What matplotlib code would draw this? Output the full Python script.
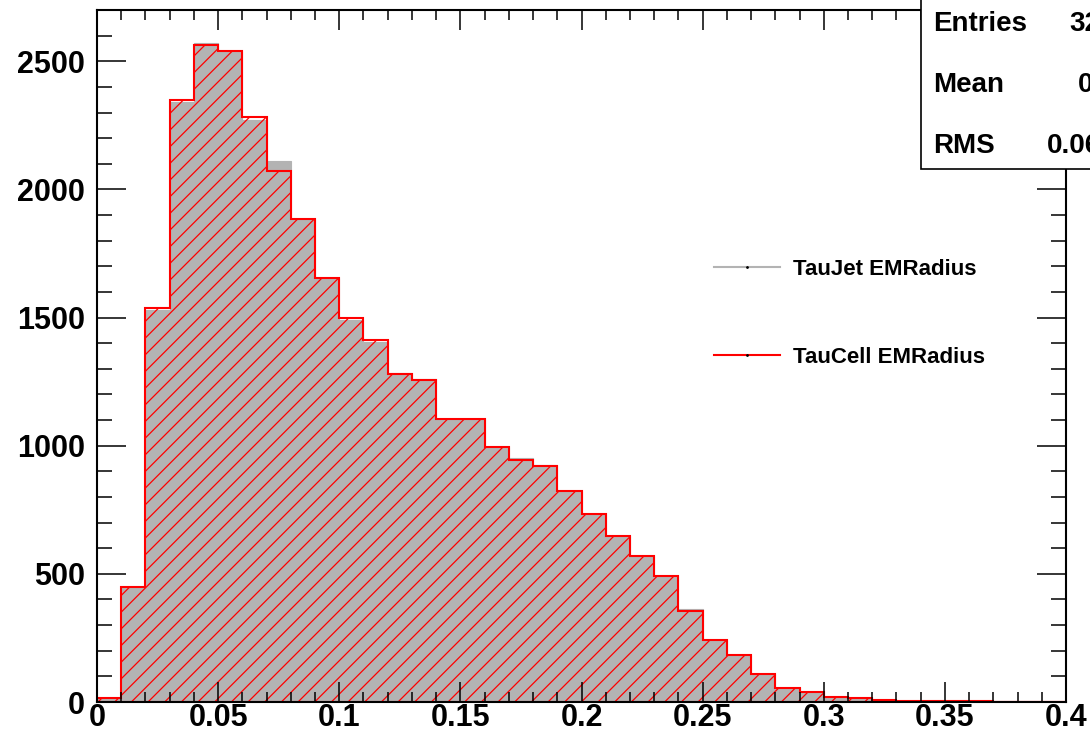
import numpy as np
import matplotlib
matplotlib.use("Agg")
from matplotlib import pyplot as plt
from matplotlib.lines import Line2D
from matplotlib.patches import Rectangle

plt.rcParams['font.family'] = ['Liberation Sans', 'DejaVu Sans']
plt.rcParams['font.weight'] = 'bold'
plt.rcParams['hatch.linewidth'] = 0.9

# histogram binning: 40 bins of 0.01 from 0 to 0.4
edges = np.round(np.arange(0, 0.4001, 0.01), 3)

# TauCell EMRadius (red hatched)
cell_counts = [15, 447, 1538, 2349, 2562, 2540, 2282, 2071, 1885, 1655,
               1500, 1411, 1280, 1256, 1104, 1104, 993, 945, 920, 825,
               735, 648, 568, 493, 355, 243, 182, 109, 55, 40,
               21, 14, 6, 5, 4, 2, 2, 1, 1, 0]
# TauJet EMRadius (grey filled)
jet_counts = [15, 447, 1530, 2340, 2573, 2540, 2270, 2110, 1885, 1655,
              1492, 1404, 1282, 1262, 1104, 1104, 993, 952, 926, 825,
              735, 648, 568, 493, 363, 243, 182, 109, 55, 40,
              21, 14, 6, 5, 4, 2, 2, 1, 1, 0]

labels = ["TauJet EMRadius", "TauCell EMRadius"]
stat_names = ["Entries", "Mean", "RMS"]
stat_values = ["32163", "0.121", "0.06458"]

W, H = 1090, 735
fig = plt.figure(figsize=(W / 100, H / 100), dpi=100)
ax = fig.add_axes([97 / W, 1 - 702 / H, (1066 - 97) / W, (702 - 10) / H])

grey = '#b3b3b3'
ax.stairs(jet_counts, edges, fill=True, facecolor=grey, edgecolor=grey, linewidth=0.8)
ax.stairs(cell_counts, edges, fill=True, facecolor='none', edgecolor='red',
          hatch='//', linewidth=0)
ax.stairs(cell_counts, edges, baseline=0, color='red', linewidth=1.5)
ax.plot([edges[0], edges[-1]], [0, 0], color='red', linewidth=1.5)

ax.set_xlim(0, 0.4)
ax.set_ylim(0, 2700)

ax.set_xticks(np.arange(0, 0.401, 0.05))
ax.set_xticklabels(['0', '0.05', '0.1', '0.15', '0.2', '0.25', '0.3', '0.35', '0.4'])
ax.set_xticks(np.arange(0, 0.401, 0.01), minor=True)
ax.set_yticks(np.arange(0, 2501, 500))
ax.set_yticks(np.arange(0, 2701, 100), minor=True)

ax.tick_params(axis='x', which='major', direction='in', length=14.4, width=1.1,
               top=True, bottom=True, labelsize=22, pad=0.5)
ax.tick_params(axis='x', which='minor', direction='in', length=7.2, width=1.1,
               top=True, bottom=True)
ax.tick_params(axis='y', which='major', direction='in', length=21, width=1.1,
               left=True, right=True, labelsize=22, pad=8.5)
ax.tick_params(axis='y', which='minor', direction='in', length=11, width=1.1,
               left=True, right=True)
for lab in ax.get_xticklabels() + ax.get_yticklabels():
    lab.set_fontweight('bold')
for s in ax.spines.values():
    s.set_linewidth(1.5)

# legend (no frame)
handles = [Line2D([], [], color=grey, lw=1.5, marker='.', markersize=2,
                  markerfacecolor='k', markeredgecolor='k'),
           Line2D([], [], color='red', lw=1.5, marker='.', markersize=2,
                  markerfacecolor='k', markeredgecolor='k')]
leg = ax.legend(handles, labels, loc='upper left', frameon=False,
                bbox_to_anchor=(714 / W, 1 - 259 / H), bbox_transform=fig.transFigure,
                borderpad=0, borderaxespad=0, handlelength=2.95, handletextpad=0.6,
                labelspacing=3.0, prop={'size': 16, 'weight': 'bold'}, markerscale=1)

# stats box, cut off by the figure edge like the original
box = Rectangle((921 / W, 1 - 169 / H), 0.3, 0.3, transform=fig.transFigure,
                facecolor='white', edgecolor='black', linewidth=1.2, clip_on=False, zorder=5)
fig.patches.append(box)
for i, (n, v) in enumerate(zip(stat_names, stat_values)):
    yy = 1 - (24 + i * 61) / H
    fig.text(933 / W, yy, n, fontsize=20, fontweight='bold', va='center', ha='left', zorder=6)
    fig.text(1147 / W, yy, v, fontsize=20, fontweight='bold', va='center', ha='right', zorder=6)

fig.savefig("out.png", dpi=100)
